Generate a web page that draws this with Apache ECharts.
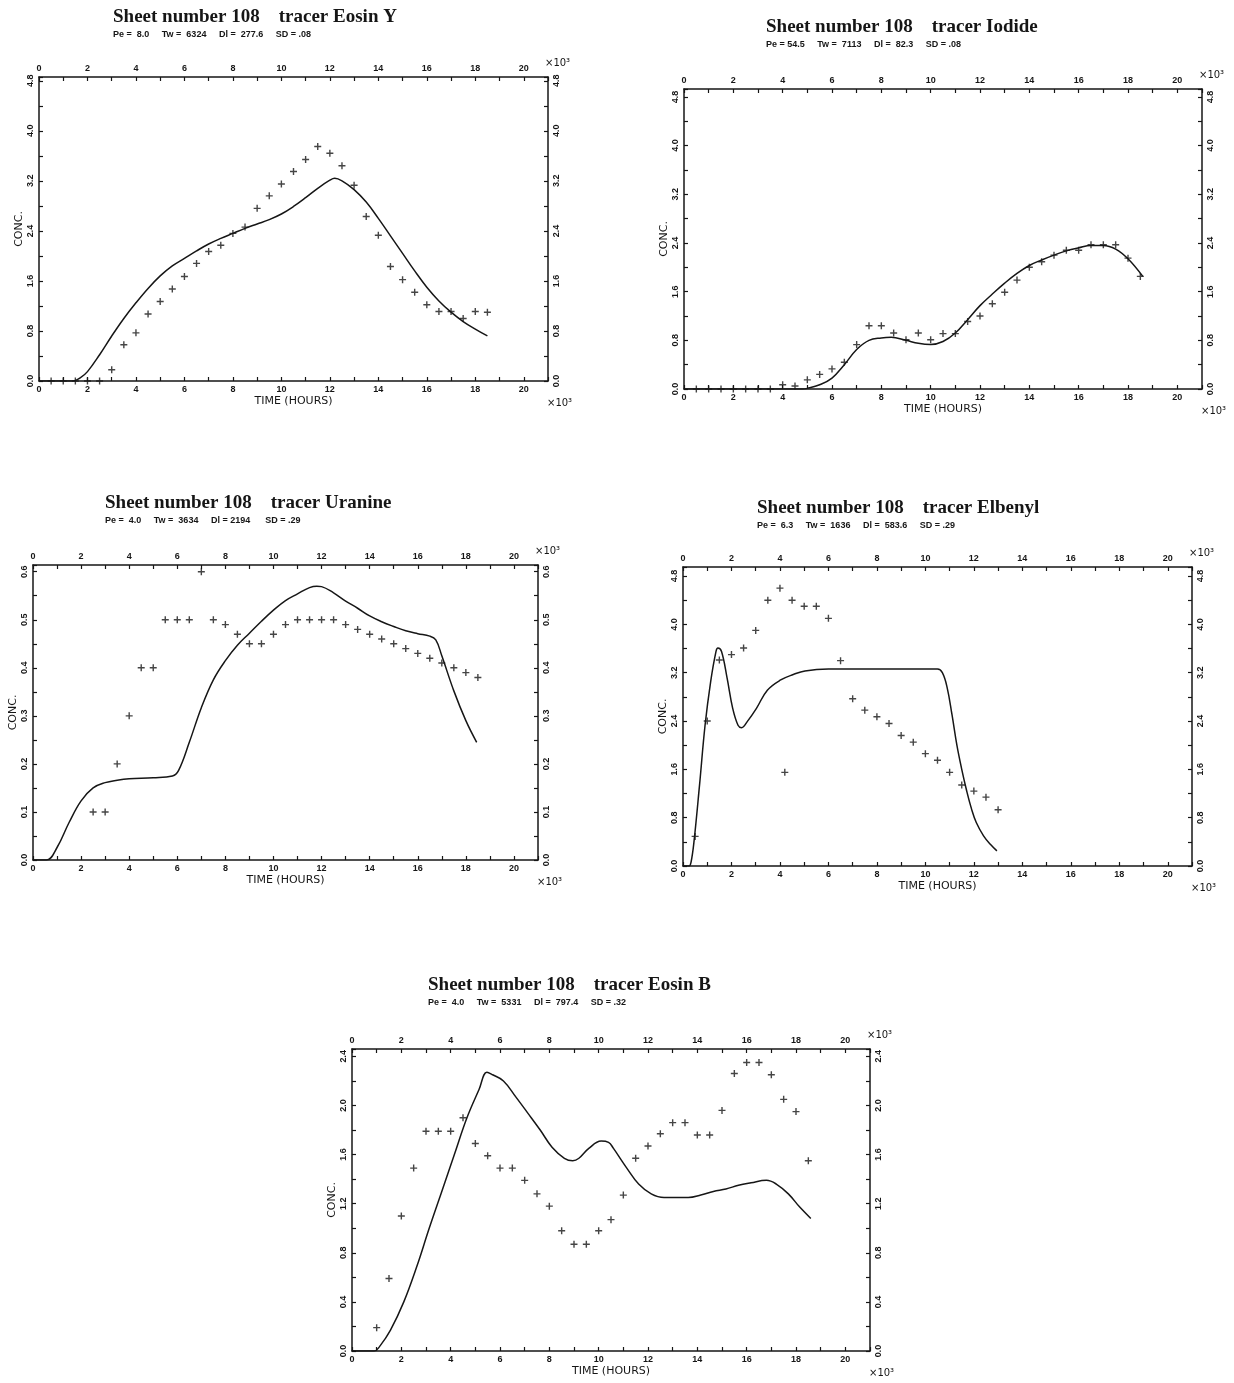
<!DOCTYPE html>
<html>
<head>
<meta charset="utf-8">
<script src="https://cdn.jsdelivr.net/npm/echarts@6/dist/echarts.min.js"></script>
<style>
  html, body { margin: 0; padding: 0; background: #ffffff; }
  #chart { width: 1234px; height: 1383px; }
</style>
</head>
<body>
<div id="chart"></div>
<script>
// ---- Tracer breakthrough data, sheet 108 (time in 10^3 hours) ----

// Eosin Y
const eosinYObsTime = [0.5, 1.0, 1.5, 2.0, 2.5, 3.0, 3.5, 4.0, 4.5, 5.0, 5.5, 6.0, 6.5, 7.0, 7.5, 8.0, 8.5, 9.0, 9.5, 10.0, 10.5, 11.0, 11.5, 12.0, 12.5, 13.0, 13.5, 14.0, 14.5, 15.0, 15.5, 16.0, 16.5, 17.0, 17.5, 18.0, 18.5];
const eosinYObsConc = [0, 0, 0, 0, 0, 0.18, 0.58, 0.77, 1.07, 1.27, 1.47, 1.67, 1.88, 2.07, 2.17, 2.36, 2.46, 2.76, 2.96, 3.15, 3.35, 3.54, 3.75, 3.64, 3.44, 3.13, 2.63, 2.33, 1.83, 1.62, 1.42, 1.22, 1.11, 1.11, 1.0, 1.11, 1.10];
const eosinYFitTime = [0, 1.4, 1.7, 2.0, 2.5, 3.0, 3.5, 4.0, 4.5, 5.0, 5.5, 6.0, 6.5, 7.0, 7.5, 8.0, 8.5, 9.0, 9.5, 10.0, 10.5, 11.0, 11.5, 12.0, 12.2, 12.5, 13.0, 13.5, 14.0, 14.5, 15.0, 15.5, 16.0, 16.5, 17.0, 17.5, 18.0, 18.5];
const eosinYFitConc = [0, 0, 0.05, 0.15, 0.42, 0.72, 1.0, 1.25, 1.48, 1.68, 1.84, 1.96, 2.08, 2.19, 2.28, 2.36, 2.44, 2.51, 2.58, 2.67, 2.79, 2.93, 3.08, 3.21, 3.24, 3.2, 3.06, 2.86, 2.6, 2.32, 2.04, 1.76, 1.5, 1.28, 1.1, 0.95, 0.83, 0.72];

// Iodide
const iodideObsTime = [0.5, 1.0, 1.5, 2.0, 2.5, 3.0, 3.5, 4.0, 4.5, 5.0, 5.5, 6.0, 6.5, 7.0, 7.5, 8.0, 8.5, 9.0, 9.5, 10.0, 10.5, 11.0, 11.5, 12.0, 12.5, 13.0, 13.5, 14.0, 14.5, 15.0, 15.5, 16.0, 16.5, 17.0, 17.5, 18.0, 18.5];
const iodideObsConc = [0, 0, 0, 0, 0, 0, 0, 0.07, 0.05, 0.15, 0.24, 0.33, 0.44, 0.73, 1.04, 1.04, 0.92, 0.81, 0.92, 0.81, 0.91, 0.91, 1.11, 1.2, 1.4, 1.59, 1.79, 2.0, 2.09, 2.2, 2.28, 2.28, 2.37, 2.37, 2.37, 2.15, 1.85];
const iodideFitTime = [0, 4.8, 5.0, 5.5, 6.0, 6.5, 7.0, 7.5, 8.0, 8.4, 9.0, 9.5, 10.0, 10.5, 11.0, 11.5, 12.0, 12.5, 13.0, 13.5, 14.0, 14.5, 15.0, 15.5, 16.0, 16.5, 17.0, 17.5, 18.0, 18.6];
const iodideFitConc = [0, 0, 0.01, 0.07, 0.18, 0.4, 0.65, 0.8, 0.84, 0.85, 0.8, 0.75, 0.73, 0.78, 0.92, 1.14, 1.37, 1.56, 1.74, 1.9, 2.03, 2.12, 2.2, 2.27, 2.32, 2.36, 2.36, 2.3, 2.14, 1.85];

// Uranine
const uranineObsTime = [2.5, 3.0, 3.5, 4.0, 4.5, 5.0, 5.5, 6.0, 6.5, 7.0, 7.5, 8.0, 8.5, 9.0, 9.5, 10.0, 10.5, 11.0, 11.5, 12.0, 12.5, 13.0, 13.5, 14.0, 14.5, 15.0, 15.5, 16.0, 16.5, 17.0, 17.5, 18.0, 18.5];
const uranineObsConc = [0.1, 0.1, 0.2, 0.3, 0.4, 0.4, 0.5, 0.5, 0.5, 0.6, 0.5, 0.49, 0.47, 0.45, 0.45, 0.47, 0.49, 0.5, 0.5, 0.5, 0.5, 0.49, 0.48, 0.47, 0.46, 0.45, 0.44, 0.43, 0.42, 0.41, 0.40, 0.39, 0.38];
const uranineFitTime = [0, 0.56, 1.0, 1.5, 2.0, 2.5, 3.0, 3.5, 4.0, 5.0, 5.8, 6.05, 6.5, 7.0, 7.5, 8.0, 8.5, 9.0, 9.5, 10.0, 10.5, 11.0, 11.5, 11.8, 12.0, 12.5, 13.0, 13.5, 14.0, 14.5, 15.0, 15.5, 16.0, 16.5, 16.75, 17.0, 17.5, 18.0, 18.45];
const uranineFitConc = [0, 0, 0.026, 0.078, 0.123, 0.15, 0.161, 0.166, 0.169, 0.171, 0.175, 0.186, 0.245, 0.317, 0.375, 0.415, 0.447, 0.472, 0.497, 0.52, 0.54, 0.554, 0.567, 0.57, 0.569, 0.556, 0.539, 0.524, 0.508, 0.496, 0.486, 0.477, 0.471, 0.466, 0.458, 0.425, 0.352, 0.29, 0.245];

// Elbenyl
const elbenylObsTime = [0.5, 1.0, 1.5, 2.0, 2.5, 3.0, 3.5, 4.0, 4.2, 4.5, 5.0, 5.5, 6.0, 6.5, 7.0, 7.5, 8.0, 8.5, 9.0, 9.5, 10.0, 10.5, 11.0, 11.5, 12.0, 12.5, 13.0];
const elbenylObsConc = [0.49, 2.4, 3.41, 3.5, 3.61, 3.9, 4.4, 4.6, 1.55, 4.4, 4.3, 4.3, 4.1, 3.4, 2.77, 2.58, 2.47, 2.36, 2.16, 2.05, 1.86, 1.75, 1.55, 1.34, 1.24, 1.14, 0.93];
const elbenylFitTime = [0, 0.25, 0.33, 0.45, 0.68, 0.91, 1.14, 1.36, 1.44, 1.59, 1.82, 2.05, 2.27, 2.42, 2.65, 3.03, 3.48, 4.03, 4.55, 5.03, 6.0, 7.0, 8.0, 9.0, 10.0, 10.5, 10.7, 10.9, 11.1, 11.3, 11.5, 11.7, 11.9, 12.1, 12.4, 12.7, 12.95];
const elbenylFitConc = [0, 0, 0.06, 0.39, 1.33, 2.33, 3.05, 3.55, 3.61, 3.55, 3.11, 2.61, 2.33, 2.29, 2.39, 2.61, 2.91, 3.08, 3.17, 3.23, 3.26, 3.26, 3.26, 3.26, 3.26, 3.26, 3.2, 2.95, 2.5, 2.0, 1.6, 1.25, 0.95, 0.72, 0.5, 0.35, 0.25];

// Eosin B
const eosinBObsTime = [1.0, 1.5, 2.0, 2.5, 3.0, 3.5, 4.0, 4.5, 5.0, 5.5, 6.0, 6.5, 7.0, 7.5, 8.0, 8.5, 9.0, 9.5, 10.0, 10.5, 11.0, 11.5, 12.0, 12.5, 13.0, 13.5, 14.0, 14.5, 15.0, 15.5, 16.0, 16.5, 17.0, 17.5, 18.0, 18.5];
const eosinBObsConc = [0.19, 0.59, 1.1, 1.49, 1.79, 1.79, 1.79, 1.9, 1.69, 1.59, 1.49, 1.49, 1.39, 1.28, 1.18, 0.98, 0.87, 0.87, 0.98, 1.07, 1.27, 1.57, 1.67, 1.77, 1.86, 1.86, 1.76, 1.76, 1.96, 2.26, 2.35, 2.35, 2.25, 2.05, 1.95, 1.55];
const eosinBFitTime = [0, 0.9, 1.13, 1.56, 2.1, 2.63, 3.13, 3.64, 4.15, 4.66, 5.15, 5.47, 5.7, 6.14, 6.64, 7.12, 7.63, 8.11, 8.61, 8.95, 9.2, 9.6, 10.1, 10.4, 10.6, 11.14, 11.62, 12.13, 12.65, 13.16, 13.63, 14.14, 14.65, 15.16, 15.67, 16.18, 16.8, 17.2, 17.69, 18.16, 18.6];
const eosinBFitConc = [0, 0, 0.04, 0.17, 0.4, 0.69, 1.0, 1.3, 1.6, 1.9, 2.13, 2.27, 2.25, 2.2, 2.07, 1.94, 1.8, 1.66, 1.57, 1.55, 1.57, 1.65, 1.71, 1.7, 1.65, 1.49, 1.36, 1.28, 1.25, 1.25, 1.25, 1.27, 1.3, 1.32, 1.35, 1.37, 1.39, 1.36, 1.28, 1.17, 1.08];

// Axis ticks: labelled step and tick step for each scale
const timeLabelStep = 2, timeTickStep = 1, timeMax = 21, timeLastLabel = 20;
const concLabelStepA = 0.8, concLabelStepU = 0.1, concLabelStepB = 0.4;
const concLastLabelA = 4.8, concLastLabelU = 0.6, concLastLabelB = 2.4;

// ---- Panel definitions (layout in pixels; frame top sits a little above the last label) ----
const panels = [
  { tracer: 'Eosin Y', params: 'Pe =  8.0     Tw =  6324     Dl =  277.6     SD = .08',
    obsT: eosinYObsTime, obsC: eosinYObsConc, fitT: eosinYFitTime, fitC: eosinYFitConc,
    yLast: concLastLabelA, yStep: concLabelStepA, yMax: 4.86,
    left: 39, top: 77, width: 509, height: 304, titleLeft: 113, titleTop: 8 },
  { tracer: 'Iodide', params: 'Pe = 54.5     Tw =  7113     Dl =  82.3     SD = .08',
    obsT: iodideObsTime, obsC: iodideObsConc, fitT: iodideFitTime, fitC: iodideFitConc,
    yLast: concLastLabelA, yStep: concLabelStepA, yMax: 4.93,
    left: 684, top: 89, width: 518, height: 300, titleLeft: 766, titleTop: 18 },
  { tracer: 'Uranine', params: 'Pe =  4.0     Tw =  3634     Dl = 2194      SD = .29',
    obsT: uranineObsTime, obsC: uranineObsConc, fitT: uranineFitTime, fitC: uranineFitConc,
    yLast: concLastLabelU, yStep: concLabelStepU, yMax: 0.614,
    left: 33, top: 565, width: 505, height: 295, titleLeft: 105, titleTop: 494 },
  { tracer: 'Elbenyl', params: 'Pe =  6.3     Tw =  1636     Dl =  583.6     SD = .29',
    obsT: elbenylObsTime, obsC: elbenylObsConc, fitT: elbenylFitTime, fitC: elbenylFitConc,
    yLast: concLastLabelA, yStep: concLabelStepA, yMax: 4.95,
    left: 683, top: 567, width: 509, height: 299, titleLeft: 757, titleTop: 499 },
  { tracer: 'Eosin B', params: 'Pe =  4.0     Tw =  5331     Dl =  797.4     SD = .32',
    obsT: eosinBObsTime, obsC: eosinBObsConc, fitT: eosinBFitTime, fitC: eosinBFitConc,
    yLast: concLastLabelB, yStep: concLabelStepB, yMax: 2.46,
    left: 352, top: 1049, width: 518, height: 302, titleLeft: 428, titleTop: 976 }
];

const INK = '#161616';
const PLUS = 'path://M4,0H6V4H10V6H6V10H4V6H0V4H4Z';
const tickFont = { fontFamily: 'Liberation Sans', fontWeight: 'bold', fontSize: 9, color: INK };
const frameStyle = { color: INK, width: 1.5 };
const tickStyle = { color: INK, width: 1.2 };

const zip = (a, b) => a.map((v, i) => [v, b[i]]);
const onStep = (v, step) => Math.abs(v / step - Math.round(v / step)) < 1e-6;

const grid = [], xAxis = [], yAxis = [], series = [], title = [], graphic = [];

panels.forEach((p, gi) => {
  grid.push({ left: p.left, top: p.top, width: p.width, height: p.height, containLabel: false });

  const timeLabel = v => (onStep(v, timeLabelStep) && v <= timeLastLabel) ? String(Math.round(v)) : '';
  const baseX = {
    gridIndex: gi, type: 'value', min: 0, max: timeMax, interval: timeTickStep,
    axisLine: { show: true, onZero: false, lineStyle: frameStyle },
    axisTick: { show: true, inside: true, length: 4, lineStyle: tickStyle },
    splitLine: { show: false }
  };
  xAxis.push(Object.assign({}, baseX, {
    position: 'bottom',
    name: 'TIME (HOURS)', nameLocation: 'middle', nameGap: 15,
    nameTextStyle: { fontFamily: 'DejaVu Sans', fontSize: 11, color: INK },
    axisLabel: Object.assign({ margin: 4, formatter: timeLabel }, tickFont)
  }));
  xAxis.push(Object.assign({}, baseX, {
    position: 'top',
    axisLabel: Object.assign({ margin: 4, formatter: timeLabel }, tickFont)
  }));

  const concLabel = v => (onStep(v, p.yStep) && v <= p.yLast + 1e-9) ? v.toFixed(1) : '';
  const baseY = {
    gridIndex: gi, type: 'value', min: 0, max: p.yMax, interval: p.yStep / 2,
    axisLine: { show: true, onZero: false, lineStyle: frameStyle },
    axisTick: { show: true, inside: true, length: 4, lineStyle: tickStyle },
    splitLine: { show: false }
  };
  yAxis.push(Object.assign({}, baseY, {
    position: 'left',
    name: 'CONC.', nameLocation: 'middle', nameGap: 13, nameRotate: 90,
    nameTextStyle: { fontFamily: 'DejaVu Sans', fontSize: 11, color: INK },
    axisLabel: Object.assign({ margin: 4, rotate: 90, formatter: concLabel }, tickFont)
  }));
  yAxis.push(Object.assign({}, baseY, {
    position: 'right',
    axisLabel: Object.assign({ margin: 4, rotate: 90, formatter: concLabel }, tickFont)
  }));

  series.push({
    type: 'line', xAxisIndex: 2 * gi, yAxisIndex: 2 * gi,
    data: zip(p.fitT, p.fitC), showSymbol: false, smooth: 0.4,
    lineStyle: { color: INK, width: 1.5 }, silent: true
  });
  series.push({
    type: 'scatter', xAxisIndex: 2 * gi, yAxisIndex: 2 * gi,
    data: zip(p.obsT, p.obsC), symbol: PLUS, symbolSize: 7,
    itemStyle: { color: INK }, silent: true
  });

  title.push({
    left: p.titleLeft, top: p.titleTop, padding: 0, itemGap: 3,
    text: 'Sheet number 108    tracer ' + p.tracer,
    subtext: p.params,
    textStyle: { fontFamily: 'Liberation Serif', fontWeight: 'bold', fontSize: 19, color: INK },
    subtextStyle: { fontFamily: 'Liberation Sans', fontWeight: 'bold', fontSize: 9, color: INK }
  });

  const right = p.left + p.width, bottom = p.top + p.height;
  graphic.push({ type: 'text', left: right - 3, top: p.top - 19,
    style: { text: '×10³', font: '10px "DejaVu Sans"', fill: INK } });
  graphic.push({ type: 'text', left: right - 1, top: bottom + 17,
    style: { text: '×10³', font: '10px "DejaVu Sans"', fill: INK } });
});

const chart = echarts.init(document.getElementById('chart'), null, { renderer: 'canvas' });
chart.setOption({
  backgroundColor: '#ffffff',
  animation: false,
  title, grid, xAxis, yAxis, series, graphic
});
</script>
</body>
</html>
